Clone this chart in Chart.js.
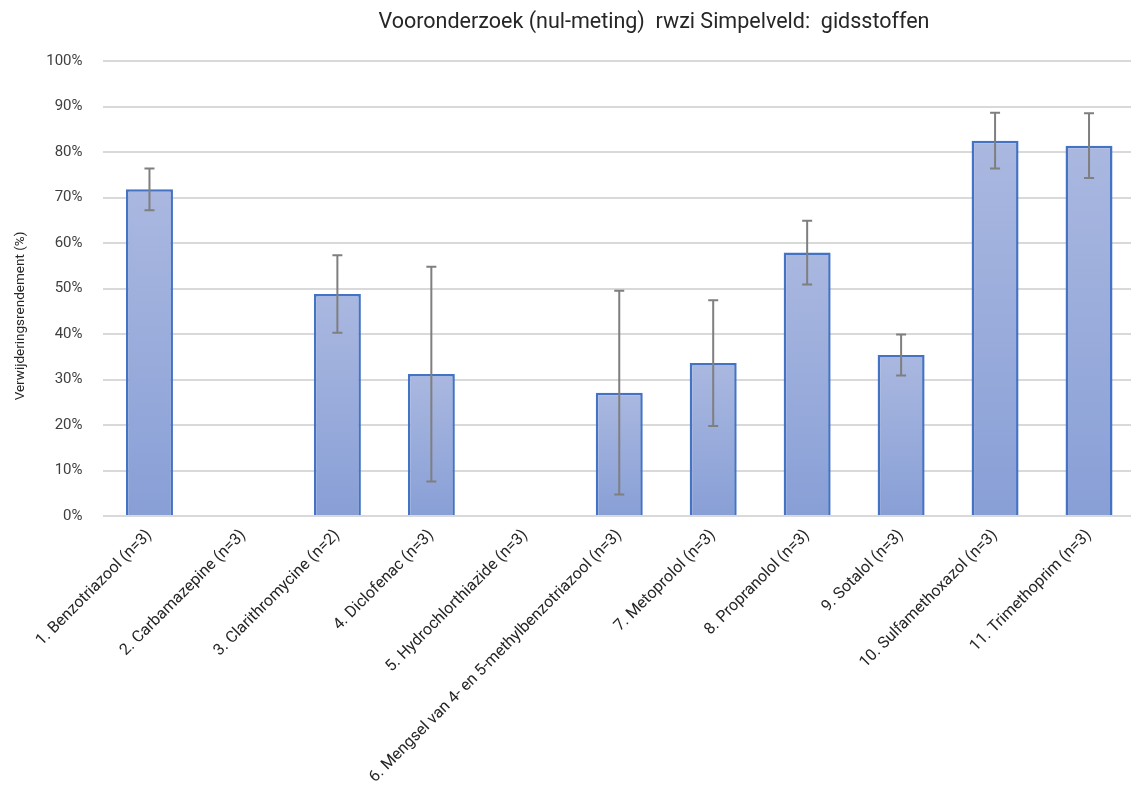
<!DOCTYPE html>
<html>
<head>
<meta charset="utf-8">
<script src="https://cdn.jsdelivr.net/npm/chart.js@4/dist/chart.umd.min.js"></script>
<style>
  html, body { margin: 0; padding: 0; background: #ffffff; overflow: hidden; }
  #wrap { position: relative; width: 1140px; height: 794px; }
</style>
</head>
<body>
<div id="wrap"><canvas id="chart"></canvas></div>
<script>
// Gidsstoffen en het gemeten verwijderingsrendement (%) met spreiding
const categories = [
  '1. Benzotriazool (n=3)',
  '2. Carbamazepine (n=3)',
  '3. Clarithromycine (n=2)',
  '4. Diclofenac (n=3)',
  '5. Hydrochlorthiazide (n=3)',
  '6. Mengsel van 4- en 5-methylbenzotriazool (n=3)',
  '7. Metoprolol (n=3)',
  '8. Propranolol (n=3)',
  '9. Sotalol (n=3)',
  '10. Sulfamethoxazol (n=3)',
  '11. Trimethoprim (n=3)'
];
const rendement = [71.8, null, 48.8, 31.2, null, 27.1, 33.6, 57.9, 35.4, 82.5, 81.4];
const spreiding = [4.6, null, 8.5, 23.6, null, 22.4, 13.8, 7.0, 4.5, 6.1, 7.1];
const yTicks = [0, 10, 20, 30, 40, 50, 60, 70, 80, 90, 100];

const chartTitle = 'Vooronderzoek (nul-meting)  rwzi Simpelveld:  gidsstoffen';
const yTitle = 'Verwijderingsrendement (%)';

const FONT = "Roboto, 'Noto Sans', sans-serif";

// Verloop per staaf: lichter boven, donkerder onder
function barGradient(ctx) {
  const chart = ctx.chart;
  if (!chart.chartArea || ctx.type !== 'data' || ctx.parsed == null || ctx.parsed.y == null) {
    return '#98abdb';
  }
  const ys = chart.scales.y;
  const top = ys.getPixelForValue(ctx.parsed.y);
  const bottom = ys.getPixelForValue(0);
  const g = chart.ctx.createLinearGradient(0, top, 0, bottom);
  g.addColorStop(0, '#aab8e0');
  g.addColorStop(1, '#889fd6');
  return g;
}

// Foutbalken (± spreiding) boven op de staven
const errorBars = {
  id: 'errorBars',
  afterDatasetsDraw(chart) {
    const { ctx, scales: { x, y } } = chart;
    ctx.save();
    ctx.strokeStyle = '#7f7f7f';
    ctx.lineWidth = 2;
    rendement.forEach((v, i) => {
      const e = spreiding[i];
      if (v == null || e == null) return;
      const cx = x.getPixelForValue(i);
      const yHi = y.getPixelForValue(v + e);
      const yLo = y.getPixelForValue(v - e);
      ctx.beginPath();
      ctx.moveTo(cx, yHi); ctx.lineTo(cx, yLo);
      ctx.moveTo(cx - 5, yHi); ctx.lineTo(cx + 5, yHi);
      ctx.moveTo(cx - 5, yLo); ctx.lineTo(cx + 5, yLo);
      ctx.stroke();
    });
    ctx.restore();
  }
};

// Titel boven de grafiek en de as-titel links
const titlePlugin = {
  id: 'titles',
  afterDraw(chart) {
    const { ctx } = chart;
    ctx.save();
    ctx.fillStyle = '#262626';
    ctx.font = "21.5px " + FONT;
    ctx.textAlign = 'center';
    ctx.textBaseline = 'alphabetic';
    ctx.fillText(chartTitle, 654, 28);
    ctx.restore();

    ctx.save();
    ctx.translate(21, 316);
    ctx.rotate(-Math.PI / 2);
    ctx.fillStyle = '#262626';
    ctx.font = "13.5px " + FONT;
    ctx.textAlign = 'center';
    ctx.textBaseline = 'middle';
    ctx.fillText(yTitle, 0, 0);
    ctx.restore();
  }
};

new Chart(document.getElementById('chart'), {
  type: 'bar',
  data: {
    labels: categories,
    datasets: [{
      data: rendement,
      backgroundColor: barGradient,
      borderColor: '#4472c4',
      borderWidth: 2.5,
      barPercentage: 0.5,
      categoryPercentage: 1.0
    }]
  },
  options: {
    responsive: true,
    maintainAspectRatio: false,
    animation: false,
    layout: { padding: { top: 61, right: 4, left: 0, bottom: 0 } },
    plugins: {
      legend: { display: false },
      tooltip: { enabled: false },
      title: { display: false }
    },
    scales: {
      x: {
        grid: { display: false, drawTicks: false },
        border: { display: false },
        ticks: {
          autoSkip: false,
          maxRotation: 45,
          minRotation: 45,
          padding: 10,
          color: '#262626',
          font: { family: FONT, size: 16 }
        },
        afterFit(scale) { scale.height = 278; }
      },
      y: {
        min: 0,
        max: 100,
        afterBuildTicks(scale) { scale.ticks = yTicks.map(v => ({ value: v })); },
        grid: { color: '#d9d9d9', lineWidth: 2, drawTicks: false },
        border: { display: false },
        ticks: {
          padding: 20,
          color: '#404040',
          font: { family: FONT, size: 15 },
          callback: v => v + '%'
        },
        afterFit(scale) { scale.width = 102.5; }
      }
    }
  },
  plugins: [errorBars, titlePlugin]
});
</script>
</body>
</html>
